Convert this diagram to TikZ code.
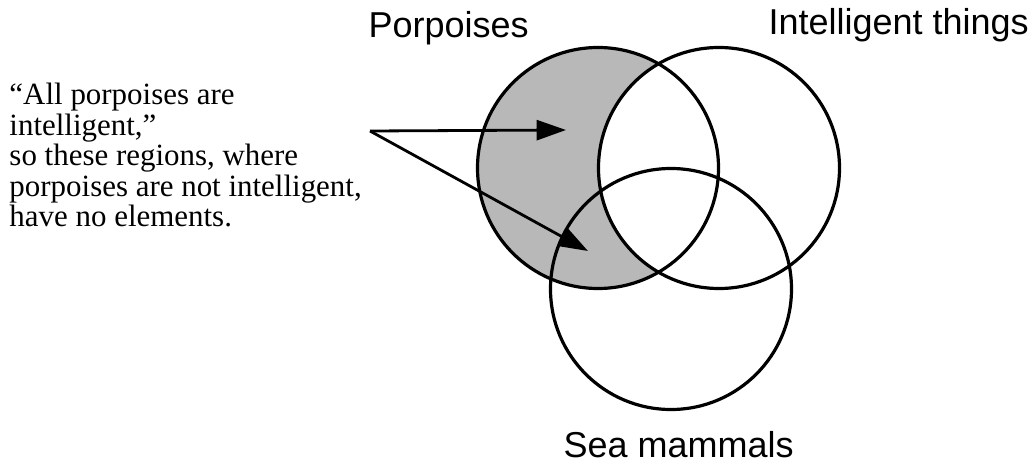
\documentclass[tikz,border=0pt]{standalone}
\usepackage{fontspec}
\setmainfont{Liberation Serif}
\setsansfont{Liberation Sans}
\usetikzlibrary{arrows.meta}

\newcommand{\notefont}{\fontsize{23.2}{22.8}\selectfont}

\tikzset{every picture/.style={line width=0.75pt}}
\tikzset{
  setline/.style={line width=2.4pt},
  setname/.style={anchor=base west, inner sep=0pt, font=\sffamily\fontsize{27}{32}\selectfont},
  notearrow/.style={line width=2.1pt, -{Triangle[length=22pt,width=15pt]}},
  emptyzone/.style={fill=black!28}
}

\begin{document}
\begin{tikzpicture}[x=0.75pt,y=0.75pt,yscale=-1,xscale=1]
\useasboundingbox (0,0) rectangle (1031,463);

%Centres of the three sets
\coordinate (porp) at (598,168);
\coordinate (intel) at (719,168);
\coordinate (sea) at (671,289);

%Shaded part: porpoises outside intelligent things
\begin{scope}
\clip (porp) circle (120.5);
\fill[emptyzone, even odd rule] (0,0) rectangle (1031,463) (intel) circle (120.5);
\end{scope}

%Shape: Circle
\draw[setline] (porp) circle (120.5);
%Shape: Circle
\draw[setline] (intel) circle (120.5);
%Shape: Circle
\draw[setline] (sea) circle (120.5);

% Text Node
\node[setname] (lblporp) at (368,38) {Porpoises};
% Text Node
\node[setname] (lblintel) at (768,35) {Intelligent things};
% Text Node
\node[setname] (lblsea) at (563,457) {Sea mammals};

% Text Node
\node[anchor=north west, inner sep=0pt, align=left, font=\notefont] (note) at (9,83)
  {“All porpoises are\\intelligent,”\\so these regions, where\\porpoises are not intelligent,\\have no elements.};

%Arrows
\coordinate (apex) at (370,131);
\coordinate (tipout) at (566,130);
\coordinate (tipsea) at (588,251);
\draw[notearrow] (apex) -- (tipout);
\draw[notearrow] (apex) -- (tipsea);

\end{tikzpicture}
\end{document}
